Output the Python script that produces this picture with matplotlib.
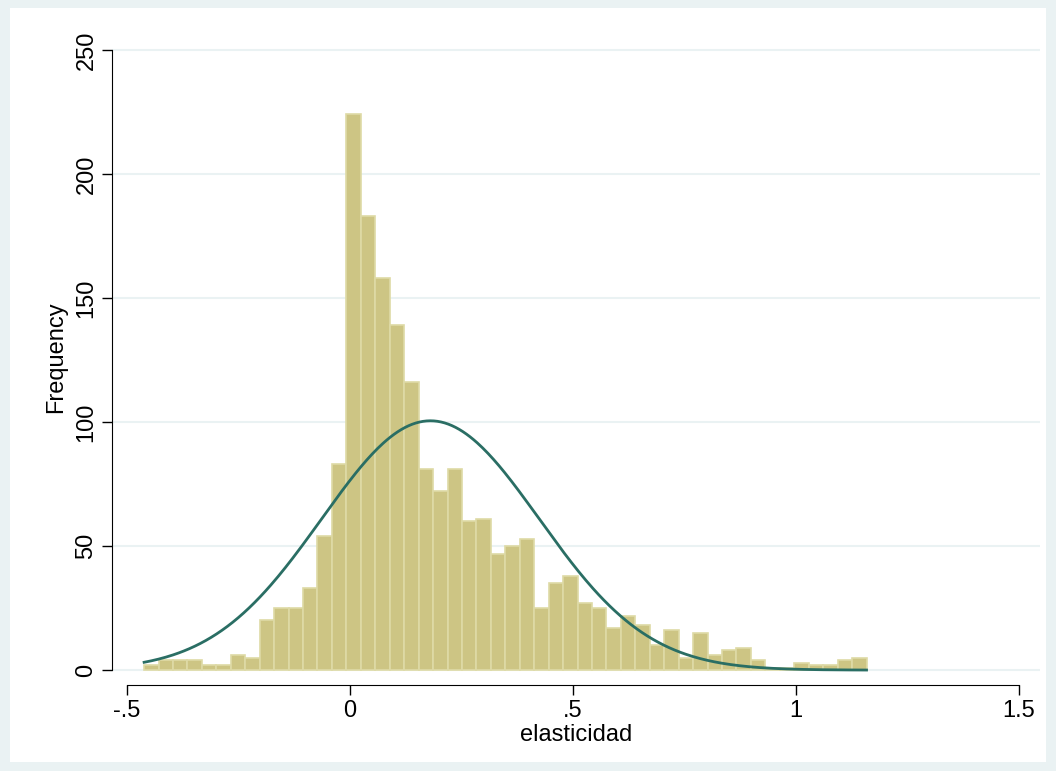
import numpy as np
import matplotlib
matplotlib.use("Agg")
import matplotlib.pyplot as plt
from matplotlib.patches import Rectangle

plt.rcParams['font.family'] = ['Liberation Sans', 'DejaVu Sans']

start = -0.462
width = 0.0324
counts = [2, 4, 4, 4, 2, 2, 6, 5, 20, 25, 25, 33, 54, 83, 224, 183, 158, 139, 116, 81,
          72, 81, 60, 61, 47, 50, 53, 25, 35, 38, 27, 25, 17, 22, 18, 10, 16, 5, 15, 6,
          8, 9, 4, 1, 1, 3, 2, 2, 4, 5]
mu, sd, n_obs = 0.18, 0.244, 1897
xticks = [-0.5, 0, 0.5, 1, 1.5]
xticklabels = ["-.5", "0", ".5", "1", "1.5"]
yticks = [0, 50, 100, 150, 200, 250]

fig = plt.figure(figsize=(10.56, 7.71), dpi=100)
fig.patch.set_facecolor("#EAF2F3")
fig.patches.append(Rectangle((10/1056, 1-762/771), (1046-10)/1056, (762-8)/771,
                             transform=fig.transFigure, facecolor="white", edgecolor="none", zorder=-10))
ax = fig.add_axes([112/1056, 1-685/771, (1040-112)/1056, (685-30)/771])
ax.set_facecolor("white")
lefts = start + width*np.arange(len(counts))
ax.bar(lefts, counts, width=width, align="edge", color="#CDC584", edgecolor="#DEDAA6", linewidth=1.2, zorder=2)
xs = np.linspace(start, start + width*len(counts), 400)
ys = n_obs*width/(sd*np.sqrt(2*np.pi))*np.exp(-(xs-mu)**2/(2*sd**2))
ax.plot(xs, ys, color="#2A6E64", lw=2, zorder=3)
ax.set_xlim(-0.534, 1.547)
ax.set_ylim(-6, 258)
ax.set_yticks(yticks)
ax.set_yticklabels([str(t) for t in yticks], rotation=90, va="center", fontsize=17)
ax.set_xticks(xticks)
ax.set_xticklabels(xticklabels, fontsize=17)
ax.grid(axis="y", color="#EAF2F3", lw=1.5, zorder=0)
for s in ["top", "right"]:
    ax.spines[s].set_visible(False)
ax.spines["left"].set_bounds(0, 250)
ax.spines["bottom"].set_bounds(-0.5, 1.5)
ax.tick_params(length=7, width=1)
ax.set_xlabel("elasticidad", fontsize=17, labelpad=2)
ax.set_ylabel("Frequency", fontsize=17, labelpad=6)
fig.savefig("out.png", dpi=100, facecolor=fig.get_facecolor())
